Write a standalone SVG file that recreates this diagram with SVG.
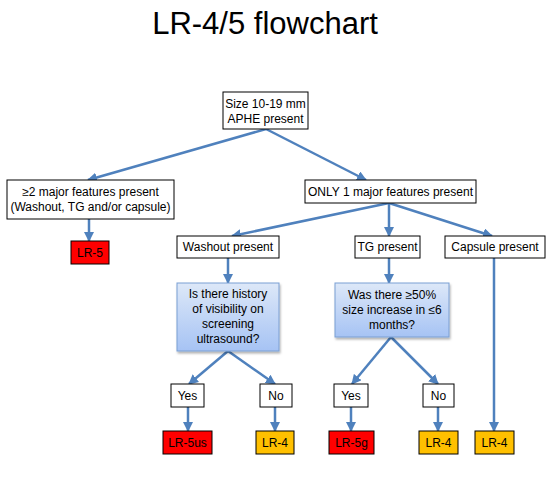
<svg xmlns="http://www.w3.org/2000/svg" width="558" height="496" viewBox="0 0 558 496">
<defs>
<linearGradient id="blueGrad" x1="0" y1="0" x2="0" y2="1">
<stop offset="0" stop-color="#dde8f8"/>
<stop offset="1" stop-color="#a6c3f4"/>
</linearGradient>
<marker id="arr" viewBox="0 0 10 10" refX="9" refY="5" markerWidth="4" markerHeight="4" orient="auto" markerUnits="strokeWidth">
<path d="M0,0 L10,5 L0,10 z" fill="#4f81bd"/>
</marker>
<filter id="sh" x="-10%" y="-10%" width="130%" height="140%">
<feDropShadow dx="1" dy="2" stdDeviation="1.2" flood-color="#000" flood-opacity="0.3"/>
</filter>
</defs>
<style>
text{font-family:"Liberation Sans",Arial,sans-serif;font-size:12px;fill:#000;text-anchor:middle}
.title{font-size:31px}
.box{fill:#fff;stroke:#000;stroke-width:1}
.red{fill:#ff0000;stroke:#000;stroke-width:1}
.orange{fill:#ffc000;stroke:#000;stroke-width:1}
.blue{fill:url(#blueGrad);stroke:#7a9fd3;stroke-width:1;filter:url(#sh)}
.conn{stroke:#4f81bd;stroke-width:2.5;fill:none;marker-end:url(#arr)}
</style>
<rect width="558" height="496" fill="#fff"/>
<text class="title" x="265" y="34">LR-4/5 flowchart</text>

<g id="connectors">
<line class="conn" x1="266" y1="129" x2="88" y2="180"/>
<line class="conn" x1="266" y1="129" x2="366" y2="180"/>
<line class="conn" x1="89" y1="219" x2="89" y2="241"/>
<line class="conn" x1="389" y1="203" x2="232" y2="236"/>
<line class="conn" x1="389" y1="203" x2="389" y2="236"/>
<line class="conn" x1="389" y1="203" x2="492" y2="236"/>
<line class="conn" x1="228" y1="258" x2="228" y2="283"/>
<line class="conn" x1="389" y1="258" x2="389" y2="283"/>
<line class="conn" x1="228" y1="351" x2="189" y2="384"/>
<line class="conn" x1="228" y1="351" x2="275" y2="384"/>
<line class="conn" x1="391" y1="337" x2="352" y2="384"/>
<line class="conn" x1="391" y1="337" x2="438" y2="384"/>
<line class="conn" x1="188" y1="407" x2="188" y2="431"/>
<line class="conn" x1="275" y1="407" x2="275" y2="431"/>
<line class="conn" x1="351" y1="407" x2="351" y2="431"/>
<line class="conn" x1="438" y1="407" x2="438" y2="431"/>
<line class="conn" x1="494" y1="258" x2="494" y2="431"/>
</g>

<g id="start">
<rect class="box" x="223" y="92" width="85" height="37"/>
<text x="265.5" y="108">Size 10-19 mm</text>
<text x="265.5" y="123">APHE present</text>
</g>
<g id="two-major">
<rect class="box" x="7" y="180" width="167" height="39"/>
<text x="90.5" y="196">≥2 major features present</text>
<text x="90.5" y="211">(Washout, TG and/or capsule)</text>
</g>
<g id="lr5">
<rect class="red" x="71" y="241" width="38" height="23"/>
<text x="90" y="257">LR-5</text>
</g>
<g id="one-major">
<rect class="box" x="305" y="180" width="171" height="23"/>
<text x="390.5" y="196">ONLY 1 major features present</text>
</g>
<g id="washout">
<rect class="box" x="177" y="236" width="102" height="22"/>
<text x="228" y="251">Washout present</text>
</g>
<g id="tg">
<rect class="box" x="355" y="236" width="65" height="22"/>
<text x="387.5" y="251">TG present</text>
</g>
<g id="capsule">
<rect class="box" x="445" y="236" width="100" height="22"/>
<text x="495" y="251">Capsule present</text>
</g>
<g id="q-visibility">
<rect class="blue" x="177" y="283" width="102" height="68"/>
<text x="228" y="298">Is there history</text>
<text x="228" y="313">of visibility on</text>
<text x="228" y="328">screening</text>
<text x="228" y="343">ultrasound?</text>
</g>
<g id="q-growth">
<rect class="blue" x="335" y="283" width="114" height="54"/>
<text x="392" y="299">Was there ≥50%</text>
<text x="392" y="314">size increase in ≤6</text>
<text x="392" y="329">months?</text>
</g>
<g id="yes1">
<rect class="box" x="171" y="384" width="33" height="23"/>
<text x="187.5" y="400">Yes</text>
</g>
<g id="no1">
<rect class="box" x="260" y="384" width="32" height="23"/>
<text x="276" y="400">No</text>
</g>
<g id="yes2">
<rect class="box" x="334" y="384" width="34" height="23"/>
<text x="351" y="400">Yes</text>
</g>
<g id="no2">
<rect class="box" x="423" y="384" width="31" height="23"/>
<text x="438.5" y="400">No</text>
</g>
<g id="lr5us">
<rect class="red" x="163" y="431" width="49" height="23"/>
<text x="187.5" y="447">LR-5us</text>
</g>
<g id="lr4-a">
<rect class="orange" x="256" y="431" width="38" height="23"/>
<text x="275" y="447">LR-4</text>
</g>
<g id="lr5g">
<rect class="red" x="329" y="431" width="45" height="23"/>
<text x="351.5" y="447">LR-5g</text>
</g>
<g id="lr4-b">
<rect class="orange" x="419" y="431" width="39" height="23"/>
<text x="438.5" y="447">LR-4</text>
</g>
<g id="lr4-c">
<rect class="orange" x="475" y="431" width="39" height="23"/>
<text x="494.5" y="447">LR-4</text>
</g>
</svg>
